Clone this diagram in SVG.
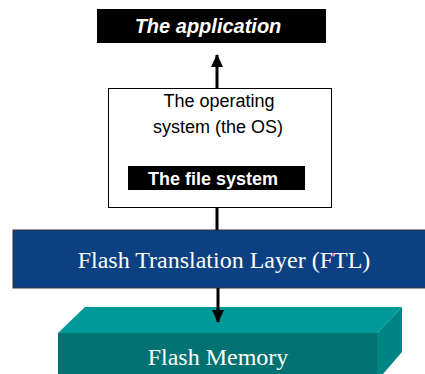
<svg xmlns="http://www.w3.org/2000/svg" width="425" height="374" viewBox="0 0 425 374">
<defs>
<marker id="ah" viewBox="0 0 13 12" refX="12" refY="6" markerWidth="13" markerHeight="12" markerUnits="userSpaceOnUse" orient="auto">
<path d="M0,0 L13,6 L0,12 z" fill="#000"/>
</marker>
<style>
.sans{font-family:"Liberation Sans",Arial,sans-serif}
.serif{font-family:"Liberation Serif","Times New Roman",serif;font-size:24px;fill:#fff}
.wire{stroke:#000;stroke-width:3;fill:none}
</style>
</defs>
<rect width="425" height="374" fill="#fff"/>
<g id="application">
<rect x="97" y="9" width="229" height="34" fill="#000"/>
<text x="208" y="33" class="sans" font-size="20" font-weight="bold" font-style="italic" fill="#fff" text-anchor="middle">The application</text>
</g>
<g id="os">
<rect x="108.5" y="88.5" width="223" height="119" fill="#fff" stroke="#000" stroke-width="1"/>
<text x="219" y="107" class="sans" font-size="18" fill="#000" text-anchor="middle">The operating</text>
<text x="218" y="133" class="sans" font-size="18" fill="#000" text-anchor="middle">system (the OS)</text>
</g>
<g id="filesystem">
<rect x="128" y="166" width="177" height="24" fill="#000"/>
<text x="213" y="184.5" class="sans" font-size="18" font-weight="bold" fill="#fff" text-anchor="middle">The file system</text>
</g>
<g id="ftl">
<rect x="13" y="230" width="420" height="58" fill="#0b4182" stroke="#333" stroke-width="1"/>
<text x="224" y="268" class="serif" text-anchor="middle">Flash Translation Layer (FTL)</text>
</g>
<g id="flash">
<polygon points="58,333 85,307 402,307 377,333" fill="#009999"/>
<polygon points="377,333 402,307 402,352 383,374 377,374" fill="#008585"/>
<rect x="58" y="333" width="319" height="41" fill="#007272"/>
<text x="218" y="365" class="serif" text-anchor="middle">Flash Memory</text>
</g>
<g id="connectors">
<line x1="217" y1="88" x2="217" y2="55" class="wire" marker-end="url(#ah)"/>
<line x1="217" y1="208" x2="217" y2="230" class="wire"/>
<line x1="218" y1="288" x2="218" y2="322" class="wire" marker-end="url(#ah)"/>
</g>
</svg>
